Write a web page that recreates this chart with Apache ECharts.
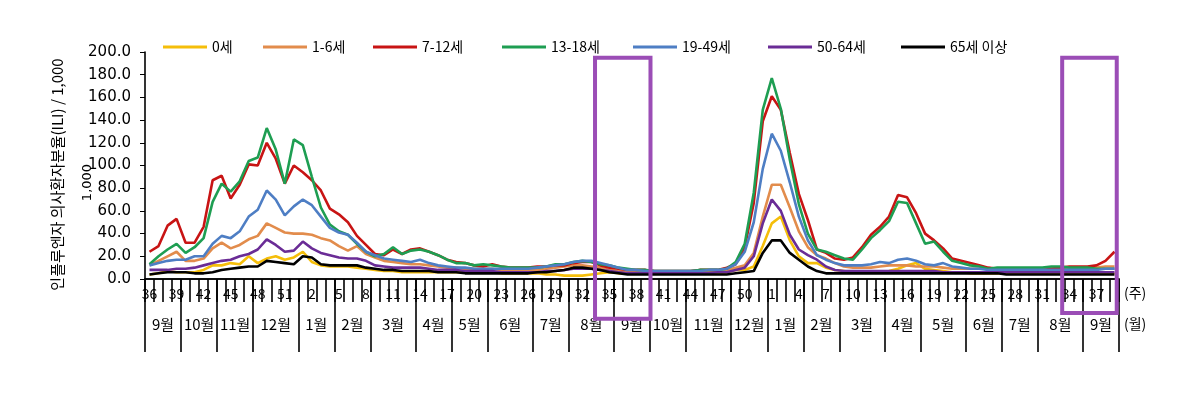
<!DOCTYPE html>
<html>
<head>
<meta charset="utf-8">
<script src="https://cdn.jsdelivr.net/npm/echarts@6/dist/echarts.min.js"></script>
<style>
    html, body { margin: 0; padding: 0; background: #fff; }
    #chart { width: 1200px; height: 399px; }
</style>
</head>
<body>
<div id="chart"></div>
<script>
// week numbers: season 1 wk36-52, then full year wk1-52, then wk1-39
const weeks = [
    '36','37','38','39','40','41','42','43','44','45','46','47','48','49','50','51','52',
    '1','2','3','4','5','6','7','8','9','10','11','12','13','14','15','16','17','18','19','20',
    '21','22','23','24','25','26','27','28','29','30','31','32','33','34','35','36','37','38','39','40',
    '41','42','43','44','45','46','47','48','49','50','51','52',
    '1','2','3','4','5','6','7','8','9','10','11','12','13','14','15','16','17','18','19','20',
    '21','22','23','24','25','26','27','28','29','30','31','32','33','34','35','36','37','38','39'
];

const monthNames = ['9월','10월','11월','12월','1월','2월','3월','4월','5월','6월','7월','8월',
    '9월','10월','11월','12월','1월','2월','3월','4월','5월','6월','7월','8월','9월'];
const monthStarts = [0, 4, 8, 12, 17, 21, 25, 30, 34, 38, 43, 47, 52, 56, 60, 65, 69, 73, 77, 82, 86, 91, 95, 99, 104];

const ageGroups = ['0세', '1-6세', '7-12세', '13-18세', '19-49세', '50-64세', '65세 이상'];

const age0 = [4,5,7,6,6,6,8,12,12,14,13,20,14,18,20,17,19,
    24,15,12,11,11,11,10,9,8,7,7,6,6,6,6,6,6,6,6,6,
    6,6,5,5,5,5,5,4,4,3,3,3,4,5,6,5,5,5,5,5,
    5,5,5,5,5,5,5,6,8,8,11,29,
    49,55,34,20,14,14,10,8,7,6,6,6,6,7,9,12,14,9,8,7,
    6,6,5,5,5,5,5,5,5,5,5,5,5,5,5,5,5,5,5];
const age1to6 = [12,16,20,24,16,16,18,27,32,27,30,35,38,49,45,41,40,
    40,39,36,34,29,25,29,22,19,16,15,14,13,13,12,11,10,10,9,9,
    9,9,8,8,8,8,8,9,10,11,12,12,11,10,8,7,7,6,6,6,
    6,6,6,6,6,7,7,8,10,12,23,55,
    83,83,63,42,28,21,18,14,11,10,10,10,11,12,12,12,11,11,11,10,
    9,9,9,9,9,9,9,9,9,9,9,10,10,10,10,10,10,11,11];
const age7to12 = [24,29,47,53,32,32,46,87,91,71,83,101,100,120,106,84,100,
    94,87,78,62,57,50,38,30,22,21,26,22,26,27,24,21,17,15,14,12,
    11,13,11,10,10,10,11,11,12,12,14,15,15,12,10,9,8,8,8,7,
    7,7,7,7,8,8,8,10,13,28,67,139,
    161,149,111,75,52,26,23,18,17,19,28,39,46,55,74,72,58,40,34,27,
    18,16,14,12,10,9,9,8,8,8,8,9,10,11,11,11,12,16,24];
const age13to18 = [13,20,26,31,23,28,36,68,84,77,86,104,107,133,114,84,123,
    118,90,63,48,42,39,31,24,20,22,28,22,25,26,24,21,17,14,14,12,
    13,12,11,10,10,10,10,11,13,13,15,16,15,13,12,10,9,8,8,7,
    7,7,7,7,8,8,8,9,15,31,76,149,
    177,150,105,66,40,26,24,21,18,17,26,36,43,51,68,67,49,31,33,24,
    16,14,12,11,9,10,10,10,10,10,10,11,11,10,10,10,9,9,9];
const age19to49 = [12,14,16,17,17,20,20,31,38,36,42,55,61,78,70,56,64,
    70,65,55,45,41,39,32,24,21,18,17,16,15,17,14,12,11,10,10,9,
    9,9,9,9,9,9,10,11,12,13,15,16,16,14,12,10,8,8,7,7,
    7,7,7,7,7,8,8,9,13,24,50,97,
    128,113,85,55,34,21,17,14,12,12,12,13,15,14,17,18,16,13,12,14,
    11,10,9,9,8,8,8,8,8,8,8,8,8,8,8,8,8,9,9];
const age50to64 = [8,8,8,9,9,10,12,14,16,17,20,22,26,35,30,24,25,
    33,27,23,21,19,18,18,16,12,11,10,10,10,10,9,8,8,8,7,7,
    7,7,6,6,6,6,6,7,7,8,9,9,9,8,7,6,5,5,5,5,
    5,5,5,5,5,5,6,6,8,10,20,49,
    70,60,39,26,21,17,11,8,7,7,7,7,7,7,7,7,7,7,7,6,
    6,6,6,6,6,6,6,6,6,6,6,6,6,6,6,6,6,6,6];
const age65plus = [4,5,6,6,6,5,5,6,8,9,10,11,11,16,15,14,13,
    20,19,13,12,12,12,12,10,9,8,8,7,7,7,7,6,6,6,5,5,
    5,5,5,5,5,5,6,6,7,8,10,10,9,8,6,5,4,4,4,4,
    4,4,4,4,4,4,4,4,5,6,7,23,
    34,34,23,17,11,7,5,5,5,5,5,5,5,5,5,5,5,5,5,5,
    5,5,5,5,5,5,4,4,4,4,4,4,4,4,4,4,4,4,4];

const seriesValues = [age0, age1to6, age7to12, age13to18, age19to49, age50to64, age65plus];
const colors = ['#F5BE0A', '#E28C4C', '#C81414', '#1E9E52', '#4E7EC4', '#6A2C96', '#000000'];
const legendLeft = [158, 258, 368, 497, 628, 763, 896];

// highlighted week ranges, in category boundary units
const boxes = [[49.9, 56.05, -35], [101.7, 107.75, -30]];

const CJK = '"Noto Sans CJK KR", "Noto Sans", sans-serif';

// month label sits on the 3rd week of each month; 4-week months get nudged half a week left
const monthMid = {};
monthStarts.forEach((s, k) => {
    const end = k + 1 < monthStarts.length ? monthStarts[k + 1] : weeks.length;
    monthMid[s + 2] = { name: monthNames[k], even: (end - s) % 2 === 0 };
});

const chart = echarts.init(document.getElementById('chart'));

chart.setOption({
    animation: false,
    backgroundColor: '#fff',
    grid: { left: 145, right: 81, top: 52, bottom: 120 },
    legend: ageGroups.map((name, i) => ({
        data: [name],
        left: legendLeft[i],
        top: 35,
        icon: 'rect',
        itemWidth: 44,
        itemHeight: 3,
        textStyle: { fontSize: 14, fontFamily: CJK, color: '#000' }
    })),
    xAxis: [{
        type: 'category',
        data: weeks,
        boundaryGap: true,
        axisLine: { show: true, lineStyle: { color: '#000', width: 1.6 } },
        axisTick: { show: true, interval: 0, length: 23, lineStyle: { color: '#000', width: 1.6 } },
        axisLabel: {
            interval: 0,
            hideOverlap: false,
            margin: 8,
            fontSize: 14,
            fontFamily: CJK,
            color: '#000',
            // every third week is labelled
            formatter: (v, i) => (i % 3 === 0 ? v : '')
        },
        splitLine: { show: false }
    }, {
        type: 'category',
        data: weeks,
        position: 'bottom',
        boundaryGap: true,
        axisLine: { show: true, lineStyle: { color: '#000', width: 1.6 } },
        axisTick: {
            show: true,
            interval: (i) => monthStarts.includes(i),
            length: 73,
            lineStyle: { color: '#000', width: 1.6 }
        },
        axisLabel: {
            interval: (i) => monthMid[i] != null,
            margin: 38,
            formatter: (v, i) => {
                const m = monthMid[i];
                if (!m) return '';
                return (m.even ? '{e|' : '{o|') + m.name + '}';
            },
            rich: {
                e: { fontSize: 15, fontFamily: CJK, color: '#000', padding: [0, 9, 0, 0] },
                o: { fontSize: 15, fontFamily: CJK, color: '#000' }
            }
        },
        splitLine: { show: false }
    }],
    yAxis: {
        type: 'value',
        min: 0,
        max: 200,
        interval: 20,
        name: '인플루엔자 의사환자분율(ILI) / 1,000',
        nameLocation: 'middle',
        nameGap: 80,
        nameTextStyle: { fontSize: 15, fontFamily: CJK, color: '#000', padding: [0, 18, 0, 0] },
        axisLine: { show: true, lineStyle: { color: '#000', width: 1.6 } },
        axisTick: { show: true, length: 5, lineStyle: { color: '#000' } },
        axisLabel: {
            margin: 14,
            fontSize: 15,
            fontFamily: '"DejaVu Sans", sans-serif',
            color: '#000',
            formatter: (v) => v.toFixed(1)
        },
        splitLine: { show: false }
    },
    series: ageGroups.map((name, i) => ({
        name: name,
        type: 'line',
        xAxisIndex: 0,
        data: seriesValues[i],
        symbol: 'none',
        lineStyle: { color: colors[i], width: 2.6 },
        itemStyle: { color: colors[i] },
        z: 2 + i
    }))
});

function drawOverlay() {
    const c0 = chart.convertToPixel({ xAxisIndex: 0 }, 0);
    const band = chart.convertToPixel({ xAxisIndex: 0 }, 1) - c0;
    const edge = (b) => c0 + (b - 0.5) * band;
    const yTop = chart.convertToPixel({ yAxisIndex: 0 }, 195);
    const yAxisLine = chart.convertToPixel({ yAxisIndex: 0 }, 0);
    const xEnd = edge(weeks.length);

    const rects = boxes.map(([a, b, low]) => {
        const yBot = chart.convertToPixel({ yAxisIndex: 0 }, low);
        return {
            type: 'rect',
            shape: { x: edge(a), y: yTop, width: edge(b) - edge(a), height: yBot - yTop },
            style: { fill: 'none', stroke: '#9B4DB6', lineWidth: 4 },
            z: 100
        };
    });

    const unitText = (text, x, y, rotation, font) => ({
        type: 'text',
        x: x,
        y: y,
        rotation: rotation,
        style: { text: text, font: font, fill: '#000', align: rotation ? 'center' : 'left', verticalAlign: 'middle' },
        z: 100
    });

    chart.setOption({
        graphic: rects.concat([
            // stray unit label left over next to the y axis
            unitText('1,000', 88, chart.convertToPixel({ yAxisIndex: 0 }, 85), Math.PI / 2, '13px "DejaVu Sans", sans-serif'),
            unitText('(주)', xEnd + 5, yAxisLine + 14, 0, '14px "Noto Sans CJK KR", sans-serif'),
            unitText('(월)', xEnd + 5, yAxisLine + 45, 0, '14px "Noto Sans CJK KR", sans-serif')
        ])
    });
}

drawOverlay();

window.addEventListener('resize', () => {
    chart.resize();
    drawOverlay();
});
</script>
</body>
</html>
